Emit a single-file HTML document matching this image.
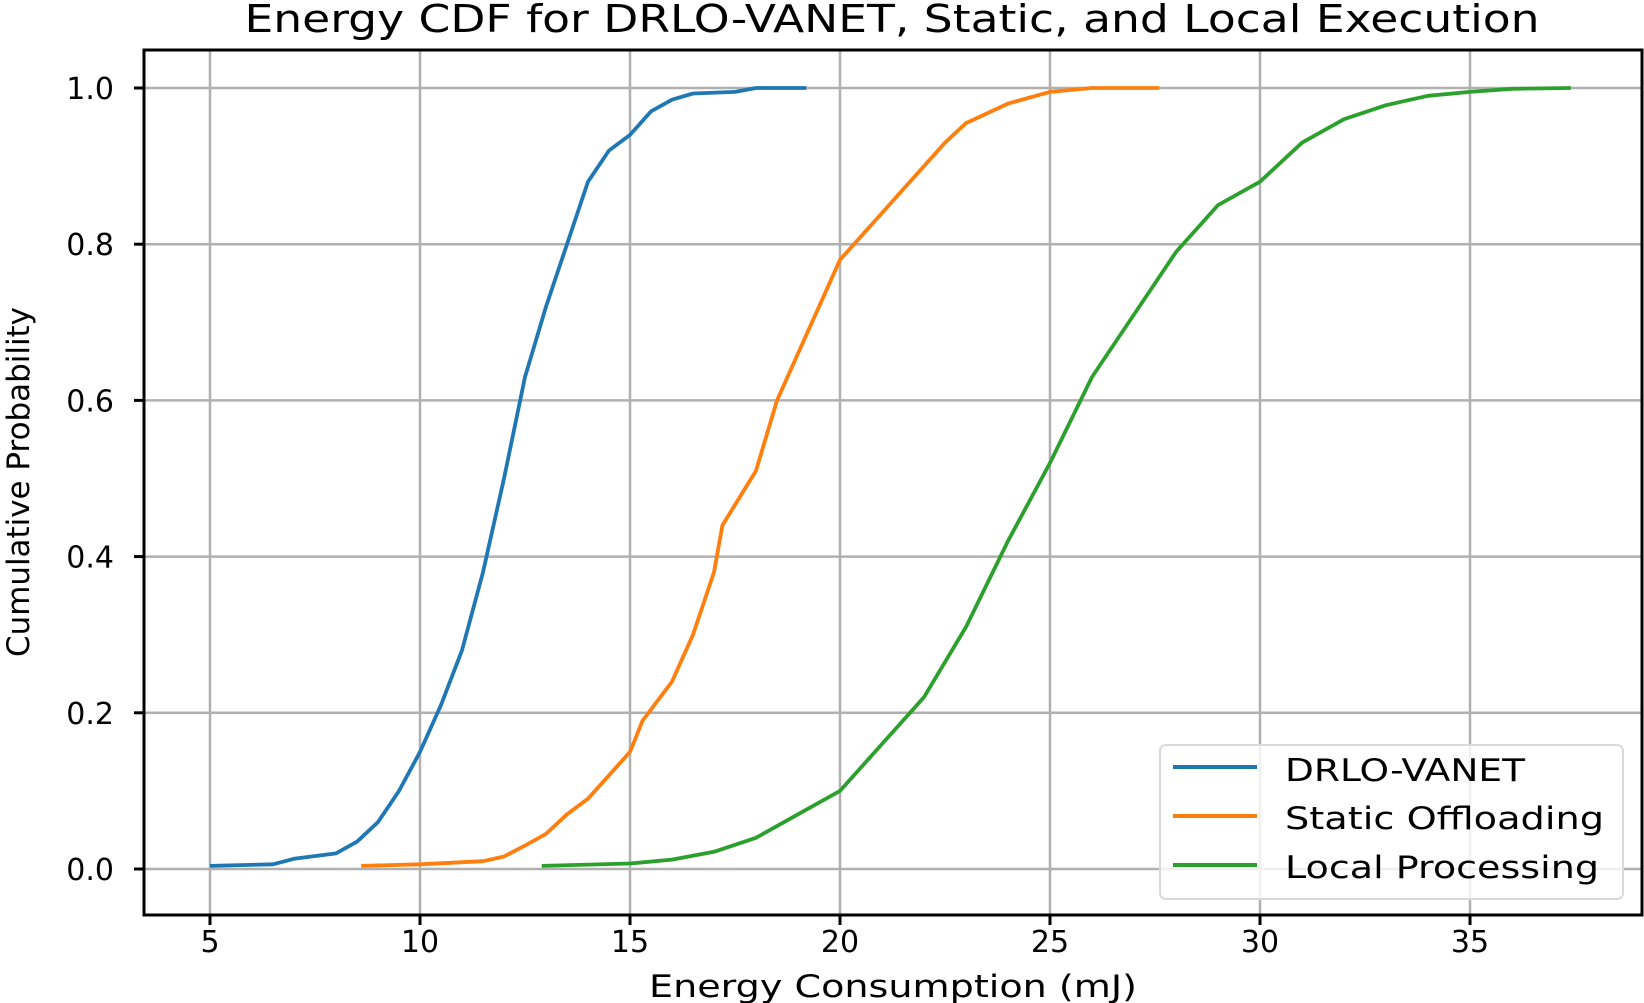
<!DOCTYPE html>
<html><head><meta charset="utf-8"><style>
html,body{margin:0;padding:0;background:#fff;}
svg{display:block;}
text{font-family:"DejaVu Sans","Liberation Sans",sans-serif;fill:#000;}
</style></head><body>
<svg id="s" width="1644" height="1003" xmlns="http://www.w3.org/2000/svg">
<g id="grid" stroke="#b0b0b0" stroke-width="2.5"></g>
<g id="curves" fill="none" stroke-width="3.8" stroke-linejoin="round"></g>
<rect x="144" y="50" width="1498" height="865" fill="none" stroke="#000" stroke-width="3"/>
<g id="ticks" stroke="#000" stroke-width="3"></g>
<g id="labels" font-size="30"></g>
<text x="892" y="32" font-size="38" text-anchor="middle" textLength="1295" lengthAdjust="spacingAndGlyphs">Energy CDF for DRLO-VANET, Static, and Local Execution</text>
<text x="893" y="997" font-size="31" text-anchor="middle" textLength="488" lengthAdjust="spacingAndGlyphs">Energy Consumption (mJ)</text>
<text transform="translate(29,482) rotate(-90)" font-size="31" text-anchor="middle" textLength="350" lengthAdjust="spacingAndGlyphs">Cumulative Probability</text>
<rect x="1160" y="745" width="463" height="154" rx="6" fill="#fff" fill-opacity="0.8" stroke="#d9d9d9" stroke-width="2"/>
<line x1="1173" y1="767" x2="1257" y2="767" stroke="#1f77b4" stroke-width="4"/>
<line x1="1173" y1="816" x2="1257" y2="816" stroke="#ff7f0e" stroke-width="4"/>
<line x1="1173" y1="865" x2="1257" y2="865" stroke="#2ca02c" stroke-width="4"/>
<text x="1285" y="781" font-size="31" textLength="240" lengthAdjust="spacingAndGlyphs">DRLO-VANET</text>
<text x="1285" y="829" font-size="31" textLength="319" lengthAdjust="spacingAndGlyphs">Static Offloading</text>
<text x="1285" y="878" font-size="31" textLength="314" lengthAdjust="spacingAndGlyphs">Local Processing</text>
</svg>
<script>
var NS="http://www.w3.org/2000/svg";
function X(v){return 210+(v-5)*42;}
function Y(p){return 869-p*781;}
function el(t,a,p){var e=document.createElementNS(NS,t);for(var k in a)e.setAttribute(k,a[k]);document.getElementById(p).appendChild(e);return e;}
for(var v=5;v<=35;v+=5){
 el("line",{x1:X(v),y1:50,x2:X(v),y2:915},"grid");
 el("line",{x1:X(v),y1:915,x2:X(v),y2:925},"ticks");
 var t=el("text",{x:X(v),y:952,"text-anchor":"middle"},"labels");t.textContent=v;
}
for(var i=0;i<=5;i++){var p=i*0.2;
 el("line",{x1:144,y1:Y(p),x2:1642,y2:Y(p)},"grid");
 el("line",{x1:134,y1:Y(p),x2:144,y2:Y(p)},"ticks");
 var t=el("text",{x:114,y:Y(p)+11,"text-anchor":"end"},"labels");t.textContent=p.toFixed(1);
}
function curve(pts,c){
 var d="";
 for(var i=0;i<pts.length;i++){d+=(i?"L":"M")+X(pts[i][0]).toFixed(1)+","+Y(pts[i][1]).toFixed(1);}
 el("path",{d:d,stroke:c},"curves");
}
curve([[5,0.004],[6.5,0.006],[7,0.013],[8,0.02],[8.5,0.035],[9,0.06],[9.5,0.1],[10,0.15],[10.5,0.21],[11,0.28],[11.5,0.38],[12,0.5],[12.5,0.63],[13,0.72],[13.5,0.8],[14,0.88],[14.5,0.92],[15,0.94],[15.5,0.97],[16,0.985],[16.5,0.993],[17.5,0.995],[18,1],[19.2,1]],"#1f77b4");
curve([[8.6,0.004],[10,0.006],[11.5,0.01],[12,0.016],[12.5,0.03],[13,0.045],[13.5,0.07],[14,0.09],[14.5,0.12],[15,0.15],[15.3,0.19],[16,0.24],[16.5,0.3],[17,0.38],[17.2,0.44],[18,0.51],[18.5,0.6],[19,0.66],[19.5,0.72],[20,0.78],[20.5,0.81],[21,0.84],[21.5,0.87],[22,0.9],[22.5,0.93],[23,0.955],[24,0.98],[25,0.995],[26,1],[27.6,1]],"#ff7f0e");
curve([[12.9,0.004],[15,0.007],[16,0.012],[17,0.022],[18,0.04],[19,0.07],[20,0.1],[21,0.16],[22,0.22],[23,0.31],[24,0.42],[25,0.52],[26,0.63],[27,0.71],[28,0.79],[29,0.85],[30,0.88],[31,0.93],[32,0.96],[33,0.978],[34,0.99],[35,0.995],[36,0.999],[37.4,1]],"#2ca02c");
</script>
</body></html>
